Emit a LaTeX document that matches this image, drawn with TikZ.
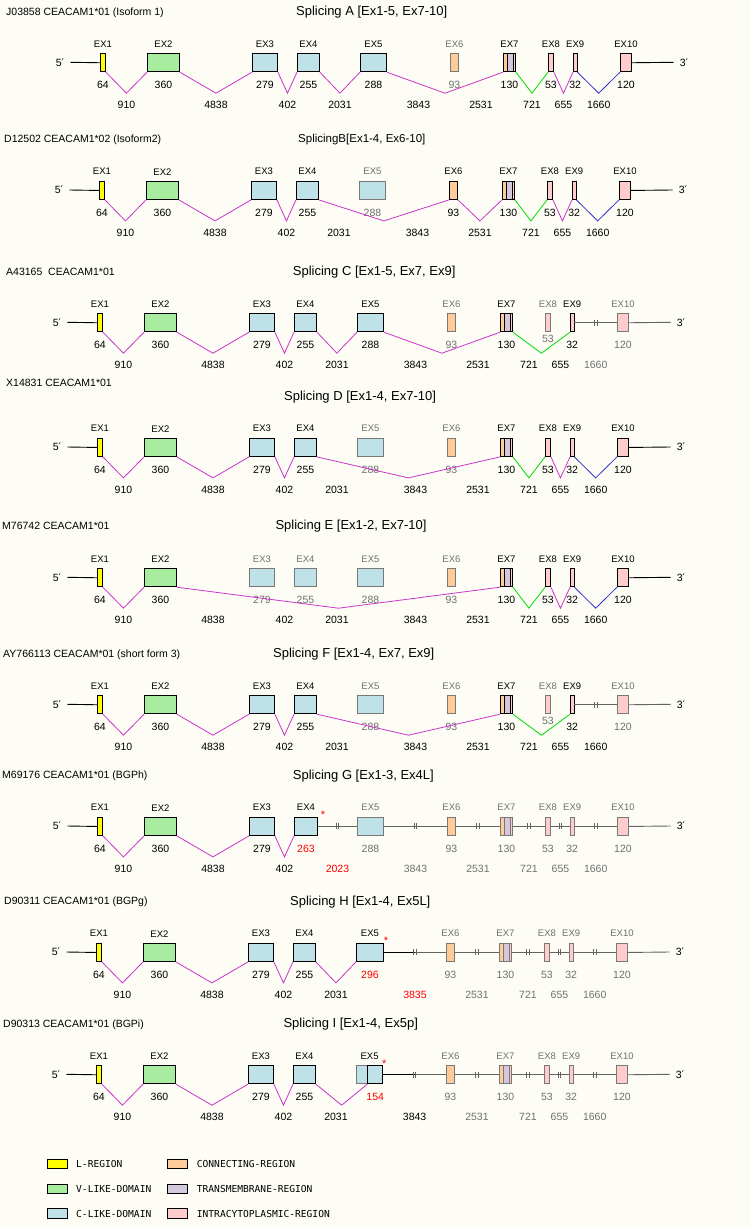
\documentclass[tikz,border=0pt]{standalone}
\usepackage{fontspec}
\setmainfont{Liberation Sans}
\newfontfamily\dvs{DejaVu Sans}
\newfontfamily\monof{DejaVu Sans Mono}
\usetikzlibrary{calc}
\definecolor{cyel}{RGB}{255,255,0}
\definecolor{cgrn}{RGB}{168,236,160}
\definecolor{cblu}{RGB}{190,226,232}
\definecolor{cor}{RGB}{255,204,153}
\definecolor{cpu}{RGB}{212,200,222}
\definecolor{cpk}{RGB}{255,204,204}
\definecolor{cmag}{RGB}{204,51,204}
\definecolor{cgr}{RGB}{0,220,0}
\definecolor{cbl}{RGB}{51,51,204}
\definecolor{cgb}{RGB}{120,120,120}
\definecolor{ctg}{RGB}{112,112,112}
\definecolor{cgl}{RGB}{100,100,100}
\definecolor{cbg}{RGB}{253,253,246}
\tikzset{
 exbox/.style={rectangle,inner sep=0pt,minimum height=18pt,line width=0.9pt},
 bon/.style={draw=black,line width=0.9pt},
 boff/.style={draw=cgb,line width=0.9pt},
 ton/.style={text=black},
 toff/.style={text=ctg},
 tred/.style={text=red},
 num/.style={inner sep=0pt,font=\fontsize{10.5}{12}\selectfont},
 exlab/.style={inner sep=0pt,font=\fontsize{9.5}{11}\selectfont},
 hdr/.style={inner sep=0pt,anchor=west,font=\fontsize{10.5}{12}\selectfont},
 ttl/.style={inner sep=0pt,anchor=west,font=\fontsize{13}{15}\selectfont},
 intr/.style={line width=0.8pt},
 gline/.style={draw=cgl,line width=0.9pt},
 bline/.style={draw=black,line width=0.9pt},
 star/.style={inner sep=0pt,anchor=north,text=red,font=\fontsize{11}{12}\selectfont},
 lgbox/.style={rectangle,draw=black,line width=0.9pt,inner sep=0pt,minimum width=20pt,minimum height=9.3pt},
 lgtxt/.style={inner sep=0pt,anchor=west,font=\monof\fontsize{9.6}{11}\selectfont},
}
% name, x1, x2, fill, state, label, size, size style
\newcommand\EX[8]{%
 \node[exbox,b#5,fill=#4,minimum width={#3-#2},anchor=north west] (#1) at ({#2+\dx},\T) {};
 \node[exlab,t#5] (#1l) at ($(#1.north)+(0,-9.3)$) {#6};
 \node[num,#8] (#1s) at ($(#1.south)+(0,12.5)$) {#7};}
% name, state, size style
\newcommand\EXseven[3]{%
 \fill[cor] ({500+\dx},\T) rectangle ({504+\dx},{\T+18});
 \fill[cpu] ({504+\dx},\T) rectangle ({510+\dx},{\T+18});
 \fill[cpk] ({510+\dx},\T) rectangle ({512+\dx},{\T+18});
 \node[exbox,b#2,minimum width=12pt,anchor=north west] (#1) at ({500+\dx},\T) {};
 \draw[b#2] ($(#1.north west)+(4,0)$) -- ($(#1.south west)+(4,0)$);
 \draw[b#2] ($(#1.north west)+(10,0)$) -- ($(#1.south west)+(10,0)$);
 \node[exlab,t#2] (#1l) at ($(#1.north)+(0,-9.3)$) {EX7};
 \node[num,#3] (#1s) at ($(#1.south)+(0,12.5)$) {130};}
% prefix
\newcommand\Ends[1]{%
 \coordinate (#1p5) at ({67.5+\dx},{\T+9});
 \coordinate (#1p3) at ({670.5+\dx},{\T+9});
 \node[num] (#1l5) at ({57+\dx},{\T+9}) {5{\dvs′}};
 \node[num] (#1l3) at ({681+\dx},{\T+9}) {3{\dvs′}};
 \draw[bline] (#1p5) -- (#11.west);}
\newcommand\Vs[2]{\foreach \i/\j/\c in {#2} {\draw[intr,draw=\c] (#1\i.south east) -- ($(#1\i.south east)!0.5!(#1\j.south west)+(0,21)$) -- (#1\j.south west);}}
\newcommand\Ins[2]{\foreach \i/\j/\c/\t in {#2} {\node[num,text=\c] (#1in\i) at ($(#1\i.south east)!0.5!(#1\j.south west)+(0,32.7)$) {\t};}}
\newcommand\GL[3]{%
 \path (#1.east) -- (#2.west) coordinate[pos=0.5] (#1m);
 \draw[#3] (#1.east) -- (#2.west);
 \draw[#3] ($(#1m)+(-1.3,-3)$) -- ++(0,6) ($(#1m)+(1.3,-3)$) -- ++(0,6);}
\newcommand\GLb[2]{%
 \path (#1.east) -- (#2.west) coordinate[pos=0.5] (#1m);
 \draw[bline] (#1.east) -- (#1m);
 \draw[gline] (#1m) -- (#2.west);
 \draw[gline] ($(#1m)+(-1.3,-3)$) -- ++(0,6) ($(#1m)+(1.3,-3)$) -- ++(0,6);}
\begin{document}
\begin{tikzpicture}[x=1pt,y=-1pt]
\useasboundingbox (0,0) rectangle (750,1228);
\fill[cbg] (0,0) rectangle (750,1228);

% ---------------- Panel A
\def\T{53.3}\def\dx{3}
\node[hdr] (ah) at (6,{\T-41}) {J03858 CEACAM1*01 (Isoform 1)};
\node[ttl] (at) at (296,{\T-41}) {Splicing A [Ex1-5, Ex7-10]};
\EX{a1}{97}{102}{cyel}{on}{EX1}{64}{ton}
\EX{a2}{144}{176}{cgrn}{on}{EX2}{360}{ton}
\EX{a3}{249}{274}{cblu}{on}{EX3}{279}{ton}
\EX{a4}{294}{316}{cblu}{on}{EX4}{255}{ton}
\EX{a5}{357}{383}{cblu}{on}{EX5}{288}{ton}
\EX{a6}{447}{455}{cor}{off}{EX6}{93}{toff}
\EXseven{a7}{on}{ton}
\EX{a8}{545}{550}{cpk}{on}{EX8}{53}{ton}
\EX{a9}{570}{573.5}{cpk}{on}{EX9}{32}{ton}
\EX{a10}{617}{628}{cpk}{on}{EX10}{120}{ton}
\Ends{a}
\draw[bline] (a10.east) -- (ap3);
\Vs{a}{1/2/cmag,2/3/cmag,3/4/cmag,4/5/cmag,5/7/cmag,7/8/cgr,8/9/cmag,9/10/cbl}
\Ins{a}{1/2/black/910,2/3/black/4838,3/4/black/402,4/5/black/2031,5/6/black/3843,6/7/black/2531,7/8/black/721,8/9/black/655,9/10/black/1660}

% ---------------- Panel B
\def\T{181}\def\dx{2}
\node[hdr] (bh) at (4,{\T-41}) {D12502 CEACAM1*02 (Isoform2)};
\node[ttl,font=\fontsize{11.5}{13}\selectfont] (bt) at (298,{\T-41}) {SplicingB[Ex1-4, Ex6-10]};
\EX{b1}{97}{102}{cyel}{on}{EX1}{64}{ton}
\EX{b2}{144}{176}{cgrn}{on}{EX2}{360}{ton}
\EX{b3}{249}{274}{cblu}{on}{EX3}{279}{ton}
\EX{b4}{294}{316}{cblu}{on}{EX4}{255}{ton}
\EX{b5}{357}{383}{cblu}{off}{EX5}{288}{toff}
\EX{b6}{447}{455}{cor}{on}{EX6}{93}{ton}
\EXseven{b7}{on}{ton}
\EX{b8}{545}{550}{cpk}{on}{EX8}{53}{ton}
\EX{b9}{570}{573.5}{cpk}{on}{EX9}{32}{ton}
\EX{b10}{617}{628}{cpk}{on}{EX10}{120}{ton}
\Ends{b}
\draw[bline] (b10.east) -- (bp3);
\Vs{b}{1/2/cmag,2/3/cmag,3/4/cmag,4/6/cmag,6/7/cmag,7/8/cgr,8/9/cmag,9/10/cbl}
\Ins{b}{1/2/black/910,2/3/black/4838,3/4/black/402,4/5/black/2031,5/6/black/3843,6/7/black/2531,7/8/black/721,8/9/black/655,9/10/black/1660}

% ---------------- Panel C
\def\T{313.3}\def\dx{0}
\node[hdr] (ch) at (6,{\T-41}) {A43165\ \ CEACAM1*01};
\node[ttl] (ct) at (292.7,{\T-41}) {Splicing C [Ex1-5, Ex7, Ex9]};
\EX{c1}{97}{102}{cyel}{on}{EX1}{64}{ton}
\EX{c2}{144}{176}{cgrn}{on}{EX2}{360}{ton}
\EX{c3}{249}{274}{cblu}{on}{EX3}{279}{ton}
\EX{c4}{294}{316}{cblu}{on}{EX4}{255}{ton}
\EX{c5}{357}{383}{cblu}{on}{EX5}{288}{ton}
\EX{c6}{447}{455}{cor}{off}{EX6}{93}{toff}
\EXseven{c7}{on}{ton}
\EX{c8}{545}{550}{cpk}{off}{EX8}{53}{toff,yshift=5.5pt}
\EX{c9}{570}{573.5}{cpk}{on}{EX9}{32}{ton}
\EX{c10}{617}{628}{cpk}{off}{EX10}{120}{toff}
\Ends{c}
\GL{c9}{c10}{gline}
\draw[gline] (c10.east) -- (cp3);
\Vs{c}{1/2/cmag,2/3/cmag,3/4/cmag,4/5/cmag,5/7/cmag,7/9/cgr}
\Ins{c}{1/2/black/910,2/3/black/4838,3/4/black/402,4/5/black/2031,5/6/black/3843,6/7/black/2531,7/8/black/721,8/9/black/655,9/10/ctg/1660}

% ---------------- Panel D
\def\T{438}\def\dx{0}
\node[hdr] (dh) at (6,{\T-55}) {X14831 CEACAM1*01};
\node[ttl] (dt) at (284,{\T-41}) {Splicing D [Ex1-4, Ex7-10]};
\EX{d1}{97}{102}{cyel}{on}{EX1}{64}{ton}
\EX{d2}{144}{176}{cgrn}{on}{EX2}{360}{ton}
\EX{d3}{249}{274}{cblu}{on}{EX3}{279}{ton}
\EX{d4}{294}{316}{cblu}{on}{EX4}{255}{ton}
\EX{d5}{357}{383}{cblu}{off}{EX5}{288}{toff}
\EX{d6}{447}{455}{cor}{off}{EX6}{93}{toff}
\EXseven{d7}{on}{ton}
\EX{d8}{545}{550}{cpk}{on}{EX8}{53}{ton}
\EX{d9}{570}{573.5}{cpk}{on}{EX9}{32}{ton}
\EX{d10}{617}{628}{cpk}{on}{EX10}{120}{ton}
\Ends{d}
\draw[bline] (d10.east) -- (dp3);
\Vs{d}{1/2/cmag,2/3/cmag,3/4/cmag,4/7/cmag,7/8/cgr,8/9/cmag,9/10/cbl}
\Ins{d}{1/2/black/910,2/3/black/4838,3/4/black/402,4/5/black/2031,5/6/black/3843,6/7/black/2531,7/8/black/721,8/9/black/655,9/10/black/1660}

% ---------------- Panel E
\def\T{568.3}\def\dx{0}
\node[hdr] (eh) at (2,{\T-42}) {M76742 CEACAM1*01};
\node[ttl] (et) at (275.3,{\T-42}) {Splicing E [Ex1-2, Ex7-10]};
\EX{e1}{97}{102}{cyel}{on}{EX1}{64}{ton}
\EX{e2}{144}{176}{cgrn}{on}{EX2}{360}{ton}
\EX{e3}{249}{274}{cblu}{off}{EX3}{279}{toff}
\EX{e4}{294}{316}{cblu}{off}{EX4}{255}{toff}
\EX{e5}{357}{383}{cblu}{off}{EX5}{288}{toff}
\EX{e6}{447}{455}{cor}{off}{EX6}{93}{toff}
\EXseven{e7}{on}{ton}
\EX{e8}{545}{550}{cpk}{on}{EX8}{53}{ton}
\EX{e9}{570}{573.5}{cpk}{on}{EX9}{32}{ton}
\EX{e10}{617}{628}{cpk}{on}{EX10}{120}{ton}
\Ends{e}
\draw[bline] (e10.east) -- (ep3);
\Vs{e}{1/2/cmag,2/7/cmag,7/8/cgr,8/9/cmag,9/10/cbl}
\Ins{e}{1/2/black/910,2/3/black/4838,3/4/black/402,4/5/black/2031,5/6/black/3843,6/7/black/2531,7/8/black/721,8/9/black/655,9/10/black/1660}

% ---------------- Panel F
\def\T{695.3}\def\dx{0}
\node[hdr] (fh) at (3,{\T-41}) {AY766113 CEACAM*01 (short form 3)};
\node[ttl] (ft) at (273,{\T-41}) {Splicing F [Ex1-4, Ex7, Ex9]};
\EX{f1}{97}{102}{cyel}{on}{EX1}{64}{ton}
\EX{f2}{144}{176}{cgrn}{on}{EX2}{360}{ton}
\EX{f3}{249}{274}{cblu}{on}{EX3}{279}{ton}
\EX{f4}{294}{316}{cblu}{on}{EX4}{255}{ton}
\EX{f5}{357}{383}{cblu}{off}{EX5}{288}{toff}
\EX{f6}{447}{455}{cor}{off}{EX6}{93}{toff}
\EXseven{f7}{on}{ton}
\EX{f8}{545}{550}{cpk}{off}{EX8}{53}{toff,yshift=5.5pt}
\EX{f9}{570}{573.5}{cpk}{on}{EX9}{32}{ton}
\EX{f10}{617}{628}{cpk}{off}{EX10}{120}{toff}
\Ends{f}
\GL{f9}{f10}{gline}
\draw[gline] (f10.east) -- (fp3);
\Vs{f}{1/2/cmag,2/3/cmag,3/4/cmag,4/7/cmag,7/9/cgr}
\Ins{f}{1/2/black/910,2/3/black/4838,3/4/black/402,4/5/black/2031,5/6/black/3843,6/7/black/2531,7/8/black/721,8/9/black/655,9/10/black/1660}

% ---------------- Panel G
\def\T{817}\def\dx{0}
\node[hdr] (gh) at (2,{\T-41}) {M69176 CEACAM1*01 (BGPh)};
\node[ttl] (gt) at (292.7,{\T-41}) {Splicing G [Ex1-3, Ex4L]};
\EX{g1}{97}{102}{cyel}{on}{EX1}{64}{ton}
\EX{g2}{144}{176}{cgrn}{on}{EX2}{360}{ton}
\EX{g3}{249}{274}{cblu}{on}{EX3}{279}{ton}
\EX{g4}{294}{317}{cblu}{on}{EX4}{263}{tred}
\EX{g5}{357}{383}{cblu}{off}{EX5}{288}{toff}
\EX{g6}{447}{455}{cor}{off}{EX6}{93}{toff}
\EXseven{g7}{off}{toff}
\EX{g8}{545}{550}{cpk}{off}{EX8}{53}{toff}
\EX{g9}{570}{573.5}{cpk}{off}{EX9}{32}{toff}
\EX{g10}{617}{628}{cpk}{off}{EX10}{120}{toff}
\node[star] (gst) at ($(g4.north east)+(5,-6)$) {*};
\Ends{g}
\GL{g4}{g5}{gline}\GL{g5}{g6}{gline}\GL{g6}{g7}{gline}\GL{g7}{g8}{gline}\GL{g8}{g9}{gline}\GL{g9}{g10}{gline}
\draw[gline] (g10.east) -- (gp3);
\Vs{g}{1/2/cmag,2/3/cmag,3/4/cmag}
\Ins{g}{1/2/black/910,2/3/black/4838,3/4/black/402,4/5/red/2023,5/6/ctg/3843,6/7/ctg/2531,7/8/ctg/721,8/9/ctg/655,9/10/ctg/1660}

% ---------------- Panel H
\def\T{943}\def\dx{-1}
\node[hdr] (hh) at (4,{\T-41}) {D90311 CEACAM1*01 (BGPg)};
\node[ttl] (ht) at (290,{\T-41}) {Splicing H [Ex1-4, Ex5L]};
\EX{h1}{97}{102}{cyel}{on}{EX1}{64}{ton}
\EX{h2}{144}{176}{cgrn}{on}{EX2}{360}{ton}
\EX{h3}{249}{274}{cblu}{on}{EX3}{279}{ton}
\EX{h4}{294}{316}{cblu}{on}{EX4}{255}{ton}
\EX{h5}{357}{384}{cblu}{on}{EX5}{296}{tred}
\EX{h6}{447}{455}{cor}{off}{EX6}{93}{toff}
\EXseven{h7}{off}{toff}
\EX{h8}{545}{550}{cpk}{off}{EX8}{53}{toff}
\EX{h9}{570}{573.5}{cpk}{off}{EX9}{32}{toff}
\EX{h10}{617}{628}{cpk}{off}{EX10}{120}{toff}
\node[star] (hst) at ($(h5.north east)+(2,-6)$) {*};
\Ends{h}
\GLb{h5}{h6}\GL{h6}{h7}{gline}\GL{h7}{h8}{gline}\GL{h8}{h9}{gline}\GL{h9}{h10}{gline}
\draw[gline] (h10.east) -- (hp3);
\Vs{h}{1/2/cmag,2/3/cmag,3/4/cmag,4/5/cmag}
\Ins{h}{1/2/black/910,2/3/black/4838,3/4/black/402,4/5/black/2031,5/6/red/3835,6/7/ctg/2531,7/8/ctg/721,8/9/ctg/655,9/10/ctg/1660}

% ---------------- Panel I
\def\T{1065.3}\def\dx{-1}
\node[hdr] (ih) at (3,{\T-41}) {D90313 CEACAM1*01 (BGPi)};
\node[ttl] (it) at (283.3,{\T-41}) {Splicing I [Ex1-4, Ex5p]};
\EX{i1}{97}{102}{cyel}{on}{EX1}{64}{ton}
\EX{i2}{144}{176}{cgrn}{on}{EX2}{360}{ton}
\EX{i3}{249}{274}{cblu}{on}{EX3}{279}{ton}
\EX{i4}{294}{316}{cblu}{on}{EX4}{255}{ton}
\node[exbox,boff,fill=cblu,minimum width=11.3pt,anchor=north west] (i5a) at ({357+\dx},\T) {};
\node[exbox,bon,fill=cblu,minimum width=15pt,anchor=north west] (i5) at ({368.3+\dx},\T) {};
\node[exlab,ton] (i5l) at ($(i5a.north west)!0.5!(i5.north east)+(0,-9.3)$) {EX5};
\node[num,tred] (i5s) at ($(i5.south)+(0,12.5)$) {154};
\EX{i6}{447}{455}{cor}{off}{EX6}{93}{toff}
\EXseven{i7}{off}{toff}
\EX{i8}{545}{550}{cpk}{off}{EX8}{53}{toff}
\EX{i9}{570}{573.5}{cpk}{off}{EX9}{32}{toff}
\EX{i10}{617}{628}{cpk}{off}{EX10}{120}{toff}
\node[star] (ist) at ($(i5.north east)+(1,-6)$) {*};
\Ends{i}
\GLb{i5}{i6}\GL{i6}{i7}{gline}\GL{i7}{i8}{gline}\GL{i8}{i9}{gline}\GL{i9}{i10}{gline}
\draw[gline] (i10.east) -- (ip3);
\Vs{i}{1/2/cmag,2/3/cmag,3/4/cmag}
\draw[intr,draw=cmag] (i4.south east) -- ($(i4.south east)!0.5!(i5.south west)+(0,21)$) -- (i5.south west);
\Ins{i}{1/2/black/910,2/3/black/4838,3/4/black/402,5/6/black/3843,6/7/ctg/2531,7/8/ctg/721,8/9/ctg/655,9/10/ctg/1660}
\node[num] (iin4) at ($(i4.south east)!0.5!(i5a.south west)+(0,32.7)$) {2031};

% ---------------- Legend
\foreach \r/\ca/\la/\cb/\lb in {0/cyel/L-REGION/cor/CONNECTING-REGION,1/cgrn/V-LIKE-DOMAIN/cpu/TRANSMEMBRANE-REGION,2/cblu/C-LIKE-DOMAIN/cpk/INTRACYTOPLASMIC-REGION}{
 \node[lgbox,fill=\ca] (lga\r) at (57.7,{1163.7+24.9*\r}) {};
 \node[lgtxt] (lgta\r) at (76,{1163.7+24.9*\r}) {\la};
 \node[lgbox,fill=\cb] (lgb\r) at (177.3,{1163.7+24.9*\r}) {};
 \node[lgtxt] (lgtb\r) at (196.7,{1163.7+24.9*\r}) {\lb};
}
\end{tikzpicture}
\end{document}
